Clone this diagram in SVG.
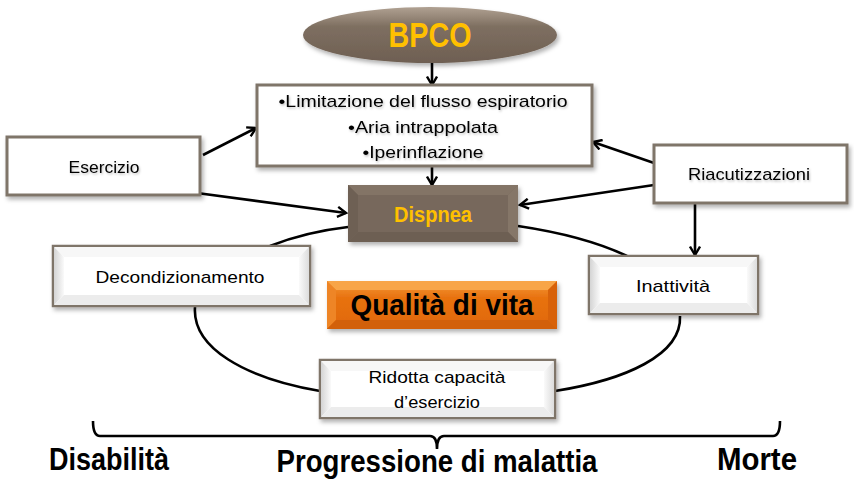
<svg xmlns="http://www.w3.org/2000/svg" width="854" height="501" viewBox="0 0 854 501">
<defs>
<style>
.box{fill:#fff;stroke:#7f7469;stroke-width:3}
.bbox{stroke:#7f7469;stroke-width:2.5}
.t{font-family:"Liberation Sans",Arial,sans-serif;font-size:17px;fill:#000;text-anchor:middle}
.tb{font-family:"Liberation Sans",Arial,sans-serif;font-weight:bold;text-anchor:middle}
.gold{fill:#FFC000}
.ln{fill:none;stroke:#000;stroke-width:2.6}
.arr{fill:none;stroke:#000;stroke-width:2.6;marker-end:url(#ah)}
.wl{fill:url(#gL)}
.wr{fill:url(#gR)}
.wt{fill:#f7f7f7}
.wb{fill:#ececec}
</style>
<marker id="ah" viewBox="0 0 12 12" refX="10" refY="6" markerWidth="12" markerHeight="12" markerUnits="userSpaceOnUse" orient="auto">
<path d="M1.5,1 L10,6 L1.5,11" fill="none" stroke="#000" stroke-width="2.4"/>
</marker>
<filter id="sh" x="-10%" y="-15%" width="125%" height="145%">
<feDropShadow dx="2" dy="3" stdDeviation="2" flood-color="#000" flood-opacity="0.3"/>
</filter>
<filter id="tsh" x="-5%" y="-20%" width="110%" height="150%">
<feDropShadow dx="1" dy="1.5" stdDeviation="1" flood-color="#000" flood-opacity="0.25"/>
</filter>
<linearGradient id="gE" x1="0" y1="0" x2="0" y2="1">
<stop offset="0" stop-color="#b0a192"/>
<stop offset="0.35" stop-color="#7e6f61"/>
<stop offset="1" stop-color="#6e5f52"/>
</linearGradient>
<linearGradient id="gL" x1="0" y1="0" x2="1" y2="0">
<stop offset="0" stop-color="#d4d4d4"/>
<stop offset="1" stop-color="#fafafa"/>
</linearGradient>
<linearGradient id="gR" x1="0" y1="0" x2="1" y2="0">
<stop offset="0" stop-color="#fafafa"/>
<stop offset="1" stop-color="#dcdcdc"/>
</linearGradient>
<linearGradient id="gQ" x1="0" y1="0" x2="0" y2="1">
<stop offset="0" stop-color="#f59a3a"/>
<stop offset="0.35" stop-color="#e8720f"/>
<stop offset="1" stop-color="#e0680a"/>
</linearGradient>
</defs>
<rect width="854" height="501" fill="#fff"/>

<g id="connectors">
<line class="arr" x1="432" y1="63" x2="432" y2="85"/>
<line class="arr" x1="432" y1="167" x2="432" y2="185"/>
<line class="arr" x1="203" y1="155" x2="256" y2="128"/>
<line class="arr" x1="197" y1="193" x2="346" y2="213"/>
<line class="arr" x1="654" y1="163" x2="593" y2="142"/>
<line class="arr" x1="654" y1="185" x2="520" y2="205"/>
<line class="arr" x1="695" y1="203" x2="695" y2="255"/>
<path class="ln" d="M270,246 Q305,232 348,227"/>
<path class="ln" d="M518,226 Q585,236 627,256"/>
<path class="ln" d="M195,307 C192,348 245,378 320,391"/>
<path class="ln" d="M680,316 C682,355 625,380 555,391"/>
<path class="ln" stroke-width="2" d="M93,421 Q93,436 100,436 L430,436 Q437,436 437,449 Q437,436 444,436 L773,436 Q780,436 780,421"/>
</g>

<g id="bpco">
<ellipse cx="430" cy="35" rx="127" ry="28" fill="url(#gE)" filter="url(#sh)"/>
<text class="tb gold" x="430" y="47" font-size="35" textLength="83" lengthAdjust="spacingAndGlyphs">BPCO</text>
</g>

<g id="fisiopatologia">
<rect class="box" x="257" y="85" width="335" height="81" filter="url(#sh)"/>
<g filter="url(#tsh)">
<text class="t" x="423" y="107" textLength="289" lengthAdjust="spacingAndGlyphs">•Limitazione del flusso espiratorio</text>
<text class="t" x="423" y="133" textLength="150" lengthAdjust="spacingAndGlyphs">•Aria intrappolata</text>
<text class="t" x="423" y="158" textLength="121" lengthAdjust="spacingAndGlyphs">•Iperinflazione</text>
</g>
</g>

<g id="esercizio">
<rect class="box" x="7" y="137" width="193" height="58" filter="url(#sh)"/>
<text class="t" x="104" y="173" textLength="71" lengthAdjust="spacingAndGlyphs" filter="url(#tsh)">Esercizio</text>
</g>

<g id="riacutizzazioni">
<rect class="box" x="654" y="145" width="193" height="58" filter="url(#sh)"/>
<text class="t" x="749" y="180" textLength="122" lengthAdjust="spacingAndGlyphs" filter="url(#tsh)">Riacutizzazioni</text>
</g>

<g id="dispnea">
<rect x="348" y="185" width="170" height="57" fill="#77685b" filter="url(#sh)"/>
<polygon points="348,185 518,185 508,195 358,195" fill="#837466"/>
<polygon points="348,185 358,195 358,232 348,242" fill="#6e6054"/>
<polygon points="518,185 508,195 508,232 518,242" fill="#857668"/>
<polygon points="348,242 358,232 508,232 518,242" fill="#6d5f53"/>
<text class="tb gold" x="433" y="222" font-size="22" textLength="78" lengthAdjust="spacingAndGlyphs">Dispnea</text>
</g>

<g id="decondizionamento">
<rect class="bbox" x="53" y="246" width="257" height="60" fill="#fff" filter="url(#sh)"/>
<polygon class="wt" points="54,247 309,247 299,257 64,257"/>
<polygon class="wl" points="54,247 64,257 64,295 54,305"/>
<polygon class="wr" points="309,247 299,257 299,295 309,305"/>
<polygon class="wb" points="54,305 64,295 299,295 309,305"/>
<text class="t" x="180" y="283" textLength="169" lengthAdjust="spacingAndGlyphs">Decondizionamento</text>
</g>

<g id="inattivita">
<rect class="bbox" x="589" y="256" width="169" height="58" fill="#fff" filter="url(#sh)"/>
<polygon class="wt" points="590,257 757,257 747,267 600,267"/>
<polygon class="wl" points="590,257 600,267 600,303 590,313"/>
<polygon class="wr" points="757,257 747,267 747,303 757,313"/>
<polygon class="wb" points="590,313 600,303 747,303 757,313"/>
<text class="t" x="673" y="292" textLength="74" lengthAdjust="spacingAndGlyphs">Inattività</text>
</g>

<g id="qualita">
<rect x="327" y="281" width="230" height="48" fill="url(#gQ)" filter="url(#sh)"/>
<polygon points="327,281 557,281 548,290 336,290" fill="#f8a548"/>
<polygon points="327,281 336,290 336,320 327,329" fill="#ee8526"/>
<polygon points="557,281 548,290 548,320 557,329" fill="#d8620a"/>
<polygon points="327,329 336,320 548,320 557,329" fill="#d2600a"/>
<text class="tb" x="442" y="315" font-size="29" fill="#000" textLength="183" lengthAdjust="spacingAndGlyphs">Qualità di vita</text>
</g>

<g id="ridotta">
<rect class="bbox" x="320" y="360" width="235" height="58" fill="#fff" filter="url(#sh)"/>
<polygon class="wt" points="321,361 554,361 544,371 331,371"/>
<polygon class="wl" points="321,361 331,371 331,407 321,417"/>
<polygon class="wr" points="554,361 544,371 544,407 554,417"/>
<polygon class="wb" points="321,417 331,407 544,407 554,417"/>
<text class="t" x="437" y="383" textLength="137" lengthAdjust="spacingAndGlyphs">Ridotta capacità</text>
<text class="t" x="437" y="408" textLength="86" lengthAdjust="spacingAndGlyphs">d’esercizio</text>
</g>

<g id="asse">
<text class="tb" x="109" y="470" font-size="31" textLength="120" lengthAdjust="spacingAndGlyphs">Disabilità</text>
<text class="tb" x="437" y="472" font-size="31" textLength="321" lengthAdjust="spacingAndGlyphs">Progressione di malattia</text>
<text class="tb" x="757" y="470" font-size="31" textLength="80" lengthAdjust="spacingAndGlyphs">Morte</text>
</g>
</svg>
